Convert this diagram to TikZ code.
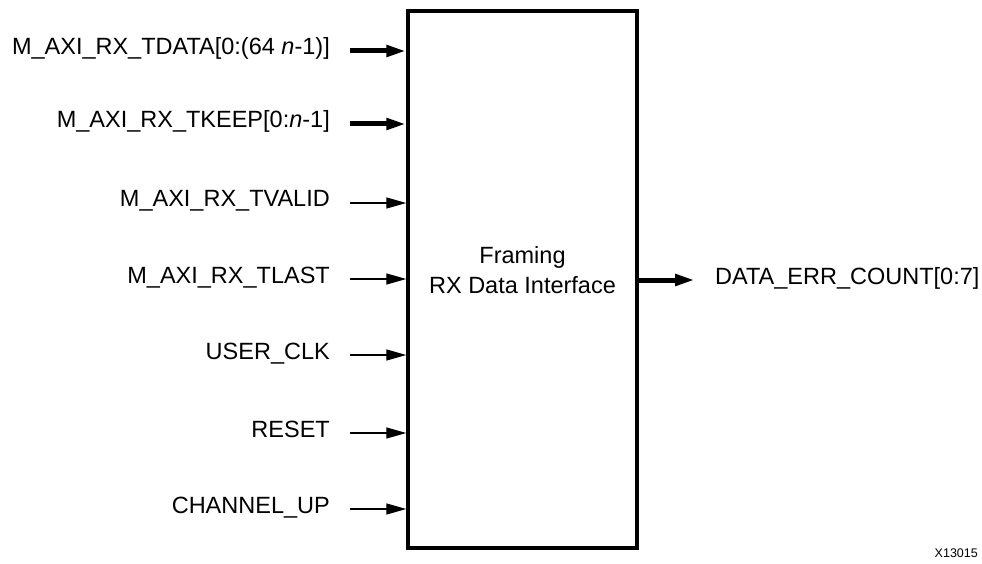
\documentclass[tikz,border=0pt]{standalone}
\usepackage{fontspec}
\setmainfont{Liberation Sans}
\usepackage{tikz}
\usetikzlibrary{arrows.meta,positioning}
\newcommand{\sig}{\fontsize{23.5}{30}\selectfont}

\begin{document}
\begin{tikzpicture}[x=1pt,y=-1pt,
    lbl/.style={font=\sig,inner sep=0pt,text height=17pt,text depth=9pt},
    thin/.style={-{Triangle[length=20pt,width=11pt]},line width=1.3pt},
    bus/.style={-{Triangle[length=20pt,width=11pt]},line width=5pt}]
  \useasboundingbox (0,0) rectangle (982,564);
  \node[draw,line width=3.5pt,inner sep=0pt,minimum width=229pt,minimum height=537pt] (rxif) at (522.5,279.5) {};
  \node[font=\sig,align=center,inner sep=0pt] (rxtxt) at ([yshift=9pt]rxif.center) {Framing\\RX Data Interface};
  % inputs
  \node[lbl,anchor=east] (tdata) at (330,51) {M\_AXI\_RX\_TDATA[0:(64 \textit{n}-1)]};
  \node[lbl,anchor=east] (tkeep) at (330,124) {M\_AXI\_RX\_TKEEP[0:\textit{n}-1]};
  \node[lbl,anchor=east] (tvalid) at (330,203) {M\_AXI\_RX\_TVALID};
  \node[lbl,anchor=east] (tlast) at (330,279) {M\_AXI\_RX\_TLAST};
  \node[lbl,anchor=east] (uclk) at (330,355) {USER\_CLK};
  \node[lbl,anchor=east] (rst) at (330,433) {RESET};
  \node[lbl,anchor=east] (chup) at (330,509) {CHANNEL\_UP};
  \draw[bus] ([xshift=20pt]tdata.east) -- (rxif.west |- tdata.east);
  \draw[bus] ([xshift=20pt]tkeep.east) -- (rxif.west |- tkeep.east);
  \draw[thin] ([xshift=20pt]tvalid.east) -- (rxif.west |- tvalid.east);
  \draw[thin] ([xshift=20pt]tlast.east) -- (rxif.west |- tlast.east);
  \draw[thin] ([xshift=20pt]uclk.east) -- (rxif.west |- uclk.east);
  \draw[thin] ([xshift=20pt]rst.east) -- (rxif.west |- rst.east);
  \draw[thin] ([xshift=20pt]chup.east) -- (rxif.west |- chup.east);
  % output
  \node[lbl,anchor=west] (errcnt) at (715,280) {DATA\_ERR\_COUNT[0:7]};
  \draw[bus] (rxif.east |- errcnt.west) -- ([xshift=-20pt]errcnt.west);
  \node[font=\fontsize{12.5}{15}\selectfont,anchor=east,inner sep=0pt] (fignum) at (978,553) {X13015};
\end{tikzpicture}
\end{document}
